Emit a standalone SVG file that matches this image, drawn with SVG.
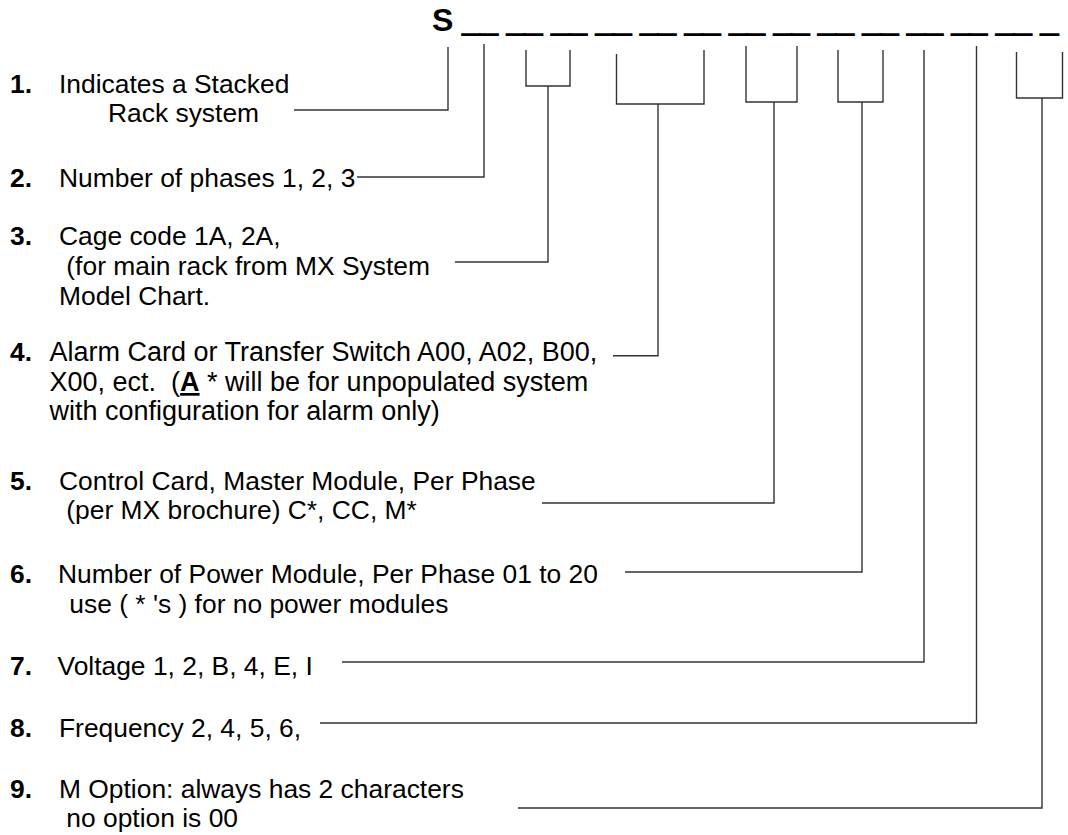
<svg xmlns="http://www.w3.org/2000/svg" width="1068" height="835" viewBox="0 0 1068 835">
  <style>
    text { font-family: "Liberation Sans", Arial, sans-serif; font-size: 26.4px; fill: #000; white-space: pre; }
    .num { font-weight: bold; }
    .code { font-weight: bold; font-size: 32px; }
    .bar { stroke: #000; stroke-width: 1.6; }
    .wide { font-size: 27px; }
    .conn path { fill: none; stroke: #333; stroke-width: 1.4; }
  </style>
  <rect width="1068" height="835" fill="#fff"/>

  <g id="header">
    <text class="code" x="432" y="31" xml:space="preserve">S <tspan class="bar">__ __ __ __ __ __ __ __ __ __ __ __ __ _</tspan></text>
  </g>

  <g id="item1">
    <text class="num" x="10" y="93.3">1.</text>
    <text x="59" y="93.3">Indicates a Stacked</text>
    <text x="108" y="122">Rack system</text>
  </g>
  <g id="item2">
    <text class="num" x="10" y="187">2.</text>
    <text x="59" y="187">Number of phases 1, 2, 3</text>
  </g>
  <g id="item3">
    <text class="num" x="10" y="245">3.</text>
    <text x="59" y="245">Cage code 1A, 2A,</text>
    <text x="59" y="275" xml:space="preserve"> (for main rack from MX System</text>
    <text x="59" y="305">Model Chart.</text>
  </g>
  <g id="item4">
    <text class="num" x="10" y="361">4.</text>
    <text class="wide" x="49.5" y="361">Alarm Card or Transfer Switch A00, A02, B00,</text>
    <text class="wide" x="49.5" y="391" xml:space="preserve">X00, ect.  (<tspan font-weight="bold" text-decoration="underline">A</tspan> * will be for unpopulated system</text>
    <text class="wide" x="49.5" y="420">with configuration for alarm only)</text>
  </g>
  <g id="item5">
    <text class="num" x="10" y="490">5.</text>
    <text x="59" y="490">Control Card, Master Module, Per Phase</text>
    <text x="59" y="519" xml:space="preserve"> (per MX brochure) C*, CC, M*</text>
  </g>
  <g id="item6">
    <text class="num" x="10" y="583">6.</text>
    <text x="58" y="583">Number of Power Module, Per Phase 01 to 20</text>
    <text x="62" y="613" xml:space="preserve"> use ( * 's ) for no power modules</text>
  </g>
  <g id="item7">
    <text class="num" x="10" y="675">7.</text>
    <text x="57.5" y="675">Voltage 1, 2, B, 4, E, I</text>
  </g>
  <g id="item8">
    <text class="num" x="10" y="737">8.</text>
    <text x="59" y="737">Frequency 2, 4, 5, 6,</text>
  </g>
  <g id="item9">
    <text class="num" x="10" y="798">9.</text>
    <text x="59" y="798">M Option: always has 2 characters</text>
    <text x="59" y="827" xml:space="preserve"> no option is 00</text>
  </g>

  <g id="connectors" class="conn">
    <path d="M448,47 V110 H294"/>
    <path d="M484,44 V177 H357"/>
    <path d="M526,50 V86 H570 V50 M548,86 V262 H455"/>
    <path d="M616.5,54 V104 H704 V50 M658,104 V355.7 H613"/>
    <path d="M746,46 V102 H797 V46 M774,102 V503 H542"/>
    <path d="M838,50 V102 H883 V50 M862,102 V572 H625"/>
    <path d="M924,50 V662 H342"/>
    <path d="M976.5,46 V723 H320"/>
    <path d="M1016.5,52 V98 H1062.5 V52 M1042,98 V808 H518"/>
  </g>
</svg>
